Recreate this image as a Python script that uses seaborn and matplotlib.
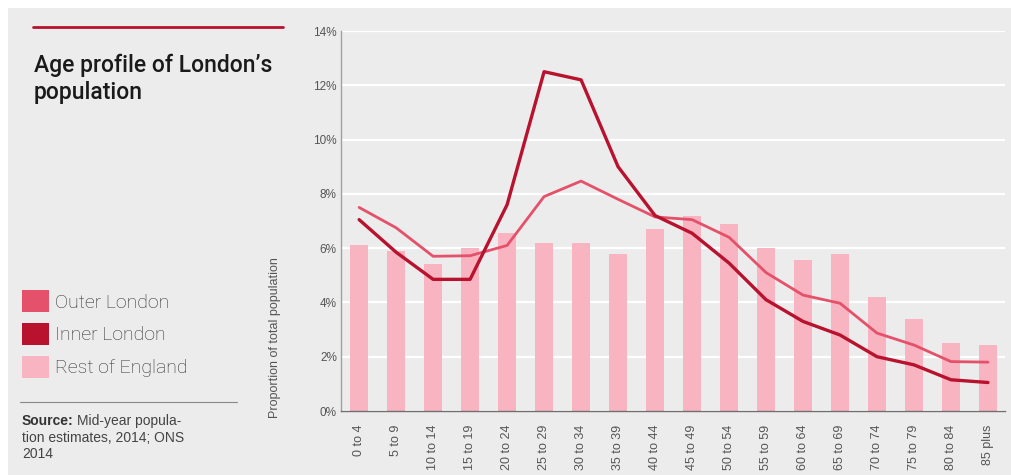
import matplotlib
matplotlib.use("Agg")
import matplotlib.pyplot as plt
import seaborn as sns
import pandas as pd
from matplotlib.patches import Patch, Rectangle
from matplotlib.lines import Line2D
from matplotlib.ticker import FuncFormatter

age_groups = ["0 to 4", "5 to 9", "10 to 14", "15 to 19", "20 to 24", "25 to 29",
              "30 to 34", "35 to 39", "40 to 44", "45 to 49", "50 to 54", "55 to 59",
              "60 to 64", "65 to 69", "70 to 74", "75 to 79", "80 to 84", "85 plus"]
rest_of_england = [6.1, 5.9, 5.4, 6.0, 6.55, 6.2, 6.2, 5.8, 6.7, 7.2, 6.9, 6.0,
                   5.55, 5.8, 4.2, 3.4, 2.5, 2.45]
inner_london = [7.05, 5.85, 4.85, 4.85, 7.6, 12.5, 12.2, 9.0, 7.2, 6.55, 5.45, 4.1,
                3.3, 2.8, 2.0, 1.7, 1.15, 1.05]
outer_london = [7.5, 6.75, 5.7, 5.72, 6.1, 7.9, 8.47, 7.8, 7.15, 7.05, 6.4, 5.1,
                4.27, 3.97, 2.87, 2.43, 1.82, 1.8]
y_ticks = [0, 2, 4, 6, 8, 10, 12, 14]

BG = "#ececec"
C_REST = "#f8b4c0"
C_OUTER = "#e5506a"
C_INNER = "#b8122f"

sns.set_theme(style="white")
plt.rcParams["font.family"] = ["Liberation Sans", "DejaVu Sans"]

df = pd.DataFrame({"age": age_groups, "rest": rest_of_england,
                   "inner": inner_london, "outer": outer_london})

W, H = 1012, 475
fig = plt.figure(figsize=(W / 100, H / 100), dpi=100, facecolor="white")
fig.patches.append(Rectangle((8 / W, 0), 1, 467 / H, transform=fig.transFigure,
                             facecolor=BG, edgecolor="none", zorder=-10))

ax = fig.add_axes([341 / W, 1 - 411 / H, (1005 - 341) / W, (411 - 31) / H])
ax.set_facecolor(BG)

sns.barplot(data=df, x="age", y="rest", color=C_REST, width=0.49, ax=ax,
            saturation=1, zorder=2, edgecolor="none", linewidth=0)
sns.lineplot(data=df, x="age", y="outer", color=C_OUTER, linewidth=2.0, ax=ax,
             sort=False, zorder=3)
sns.lineplot(data=df, x="age", y="inner", color=C_INNER, linewidth=2.4, ax=ax,
             sort=False, zorder=4)

ax.set_xlim(-0.49, 17.46)
ax.set_ylim(0, 14)
ax.set_yticks(y_ticks)
ax.yaxis.set_major_formatter(FuncFormatter(lambda v, p: f"{int(v)}%"))
ax.grid(axis="y", color="white", linewidth=1.6, zorder=0)
ax.set_axisbelow(True)
for s in ["top", "right"]:
    ax.spines[s].set_visible(False)
ax.spines["left"].set_color("#a0a0a0")
ax.spines["left"].set_linewidth(1.0)
ax.spines["bottom"].set_color("#707070")
ax.spines["bottom"].set_linewidth(1.0)
ax.tick_params(axis="y", length=0, pad=3, labelsize=8.5, labelcolor="#555555")
ax.tick_params(axis="x", length=0, pad=10, labelsize=9, labelcolor="#555555",
               labelrotation=90)
ax.set_xlabel("")
ax.set_ylabel("Proportion of total population", fontsize=9, color="#555555")
ax.yaxis.set_label_coords(-0.09, (411 - 338) / 380)

# Title block
fig.add_artist(Line2D([33 / W, 283 / W], [1 - 27 / H, 1 - 27 / H],
                      color=C_INNER, linewidth=2, transform=fig.transFigure))
fig.text(34 / W, 1 - 54 / H, "Age profile of London\u2019s\npopulation",
         fontsize=16.5, color="#1a1a1a", va="top", ha="left",
         family=["Roboto", "Liberation Sans"], weight="medium", linespacing=1.22)

# Legend
handles = [Patch(facecolor=C_OUTER, edgecolor="none", label="Outer London"),
           Patch(facecolor=C_INNER, edgecolor="none", label="Inner London"),
           Patch(facecolor=C_REST, edgecolor="none", label="Rest of England")]
leg = fig.legend(handles=handles, loc="upper left",
                 bbox_to_anchor=(22 / W, 1 - 290 / H),
                 frameon=False, fontsize=14, handlelength=1.38, handleheight=1.38,
                 handletextpad=0.3, labelspacing=0.55, borderaxespad=0,
                 borderpad=0)
for t in leg.get_texts():
    t.set_color("#2e2e2e")
    t.set_fontfamily(["Roboto", "Liberation Sans"])
    t.set_fontweight("light")

# Separator and source
fig.add_artist(Line2D([20 / W, 237 / W], [1 - 402 / H, 1 - 402 / H],
                      color="#888888", linewidth=0.8, transform=fig.transFigure))
src_bold = fig.text(22 / W, 1 - 414 / H, "Source:", fontsize=10, color="#333333",
                    weight="bold", va="top", ha="left")
fig.canvas.draw()
ext = src_bold.get_window_extent(fig.canvas.get_renderer())
fig.text((ext.x1 + 3) / W, 1 - 414 / H, "Mid-year popula-",
         fontsize=10, color="#444444", va="top", ha="left")
fig.text(22 / W, 1 - 431 / H, "tion estimates, 2014; ONS\n2014",
         fontsize=10, color="#444444", va="top", ha="left", linespacing=1.22)

fig.savefig("out.png", dpi=100, facecolor=fig.get_facecolor())
